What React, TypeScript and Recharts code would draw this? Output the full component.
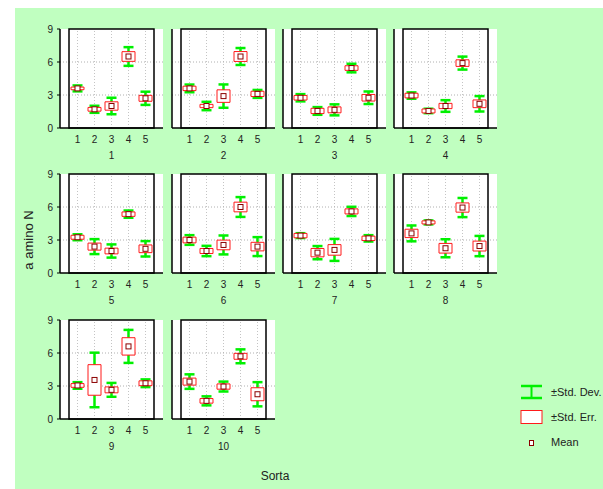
import { ComposedChart, Bar, Scatter, ErrorBar, XAxis, YAxis, ReferenceLine, ReferenceArea, CartesianGrid } from 'recharts';

// Sorta categories on each small panel, and the panel (group) names
const sorts = ['1', '2', '3', '4', '5'];
const groups = ['1', '2', '3', '4', '5', '6', '7', '8', '9', '10'];
const yTicks = [0, 3, 6, 9];

// a amino N, one row per group, one value per sorta
const means = [
  [3.6, 1.7, 2.0, 6.5, 2.7],
  [3.6, 2.0, 2.9, 6.5, 3.1],
  [2.75, 1.55, 1.65, 5.45, 2.75],
  [2.95, 1.55, 2.0, 5.9, 2.2],
  [3.25, 2.4, 2.0, 5.35, 2.2],
  [3.0, 2.0, 2.55, 6.0, 2.4],
  [3.4, 1.85, 2.1, 5.6, 3.15],
  [3.6, 4.6, 2.25, 5.95, 2.45],
  [3.05, 3.55, 2.65, 6.6, 3.25],
  [3.4, 1.65, 2.95, 5.7, 2.25],
];
const stdErr = [
  [0.12, 0.17, 0.38, 0.44, 0.27],
  [0.2, 0.15, 0.57, 0.45, 0.24],
  [0.21, 0.24, 0.27, 0.21, 0.3],
  [0.21, 0.18, 0.24, 0.3, 0.35],
  [0.18, 0.32, 0.26, 0.2, 0.35],
  [0.26, 0.23, 0.44, 0.44, 0.39],
  [0.2, 0.38, 0.48, 0.23, 0.2],
  [0.38, 0.14, 0.44, 0.42, 0.45],
  [0.17, 1.39, 0.27, 0.79, 0.22],
  [0.32, 0.21, 0.24, 0.27, 0.59],
];
const stdDev = [
  [0.27, 0.32, 0.75, 0.85, 0.6],
  [0.35, 0.38, 1.06, 0.77, 0.36],
  [0.33, 0.35, 0.5, 0.39, 0.57],
  [0.29, 0.2, 0.53, 0.59, 0.7],
  [0.27, 0.68, 0.6, 0.33, 0.7],
  [0.44, 0.47, 0.86, 0.9, 0.86],
  [0.22, 0.6, 1.0, 0.42, 0.29],
  [0.72, 0.18, 0.82, 0.87, 0.92],
  [0.3, 2.48, 0.63, 1.5, 0.35],
  [0.66, 0.41, 0.45, 0.63, 1.1],
];

const FONT = '"Liberation Sans", Arial, sans-serif';
const TEXT = '#222';
const GREEN = '#00f000';
const RED = '#ff1a1a';

// panel layout
const colLeft = [60, 172, 283, 394];
const rowTop = [29, 174, 320];
const PLOT_W = 103;
const PLOT_H = 99;
const AXIS_W = 40;
const PAD = 5;
const X_H = 35;

const MeanMark = (props: any) => {
  const { cx, cy } = props;
  if (cx == null || cy == null) return <g />;
  return <rect x={cx - 2.5} y={cy - 2.5} width={5} height={5} fill="#fff" stroke="#8b0000" strokeWidth={1} />;
};

function Panel({ index }: { index: number }) {
  const data = sorts.map((s, i) => ({
    sort: s,
    mean: means[index][i],
    sd: stdDev[index][i],
    box: [means[index][i] - stdErr[index][i], means[index][i] + stdErr[index][i]],
  }));
  const col = index % 4;
  const row = Math.floor(index / 4);
  const tickStyle = { fontSize: 10, fill: TEXT, fontFamily: FONT };

  return (
    <div style={{ position: 'absolute', left: colLeft[col] - AXIS_W, top: rowTop[row] - PAD }}>
      <ComposedChart
        width={AXIS_W + PLOT_W + PAD}
        height={PAD + PLOT_H + X_H}
        data={data}
        margin={{ top: PAD, right: PAD, bottom: 0, left: 0 }}
      >
        <CartesianGrid horizontal={false} vertical={false} fill="#fff" />
        <XAxis
          dataKey="sort"
          padding={{ left: 9, right: 9 }}
          height={X_H}
          tick={tickStyle}
          tickSize={0}
          tickMargin={8}
          axisLine={{ stroke: '#000', strokeWidth: 1.5 }}
          label={{ value: groups[index], position: 'insideBottom', offset: 4, fill: TEXT, fontSize: 10, fontFamily: FONT }}
        />
        <YAxis
          domain={[0, 9]}
          ticks={yTicks}
          width={AXIS_W}
          tick={col === 0 ? tickStyle : false}
          tickSize={3}
          tickMargin={4}
          tickLine={{ stroke: '#000' }}
          axisLine={{ stroke: '#000', strokeWidth: 1.5 }}
        />
        {sorts.map((s) => (
          <ReferenceLine key={s} x={s} stroke="#c4c4c4" strokeDasharray="1 2" zIndex={-50} />
        ))}
        <ReferenceLine y={3} stroke="#b0b0b0" strokeDasharray="1 2" zIndex={-50} />
        <ReferenceLine y={6} stroke="#b0b0b0" strokeDasharray="1 2" zIndex={-50} />
        <Scatter dataKey="mean" shape={() => <g />} isAnimationActive={false} zIndex={100}>
          <ErrorBar dataKey="sd" direction="y" width={5} stroke={GREEN} strokeWidth={2.5} isAnimationActive={false} zIndex={100} />
        </Scatter>
        <Bar dataKey="box" barSize={13} fill="#fff" stroke={RED} strokeWidth={1} isAnimationActive={false} zIndex={650} />
        <Scatter dataKey="mean" shape={MeanMark} isAnimationActive={false} zIndex={700} />
        {/* plot frame */}
        <ReferenceArea y1={0} y2={9} fill="none" fillOpacity={0} stroke="#000" strokeWidth={1.5} strokeOpacity={1} zIndex={800} />
      </ComposedChart>
    </div>
  );
}

export default function App() {
  return (
    <div style={{ position: 'absolute', left: 0, top: 0, width: 603, height: 489, background: '#fff', overflow: 'hidden', fontFamily: FONT }}>
      <div style={{ position: 'absolute', left: 15, top: 8, width: 588, height: 481, background: '#c0ffc0' }} />
      {groups.map((g, i) => (
        <Panel key={g} index={i} />
      ))}
      <svg width={603} height={489} style={{ position: 'absolute', left: 0, top: 0, pointerEvents: 'none' }}>
        <text x={33} y={240} transform="rotate(-90 33 240)" textAnchor="middle" fontSize={13} fill={TEXT} fontFamily={FONT}>
          a amino N
        </text>
        <text x={275} y={480} textAnchor="middle" fontSize={12} fill={TEXT} fontFamily={FONT}>
          Sorta
        </text>
        {/* legend */}
        <g>
          <line x1={521} y1={386} x2={542} y2={386} stroke={GREEN} strokeWidth={2.5} />
          <line x1={521} y1={398} x2={542} y2={398} stroke={GREEN} strokeWidth={2.5} />
          <line x1={531.5} y1={386} x2={531.5} y2={398} stroke={GREEN} strokeWidth={2} />
          <text x={551} y={396} fontSize={11} fill={TEXT} fontFamily={FONT}>±Std. Dev.</text>
          <rect x={521} y={410.5} width={21} height={13} fill="#fff" stroke={RED} strokeWidth={1} />
          <text x={551} y={421} fontSize={11} fill={TEXT} fontFamily={FONT}>±Std. Err.</text>
          <rect x={529.5} y={440.5} width={4} height={5} fill="#fff" stroke="#8b0000" strokeWidth={1} />
          <text x={551} y={446} fontSize={11} fill={TEXT} fontFamily={FONT}>Mean</text>
        </g>
      </svg>
    </div>
  );
}
